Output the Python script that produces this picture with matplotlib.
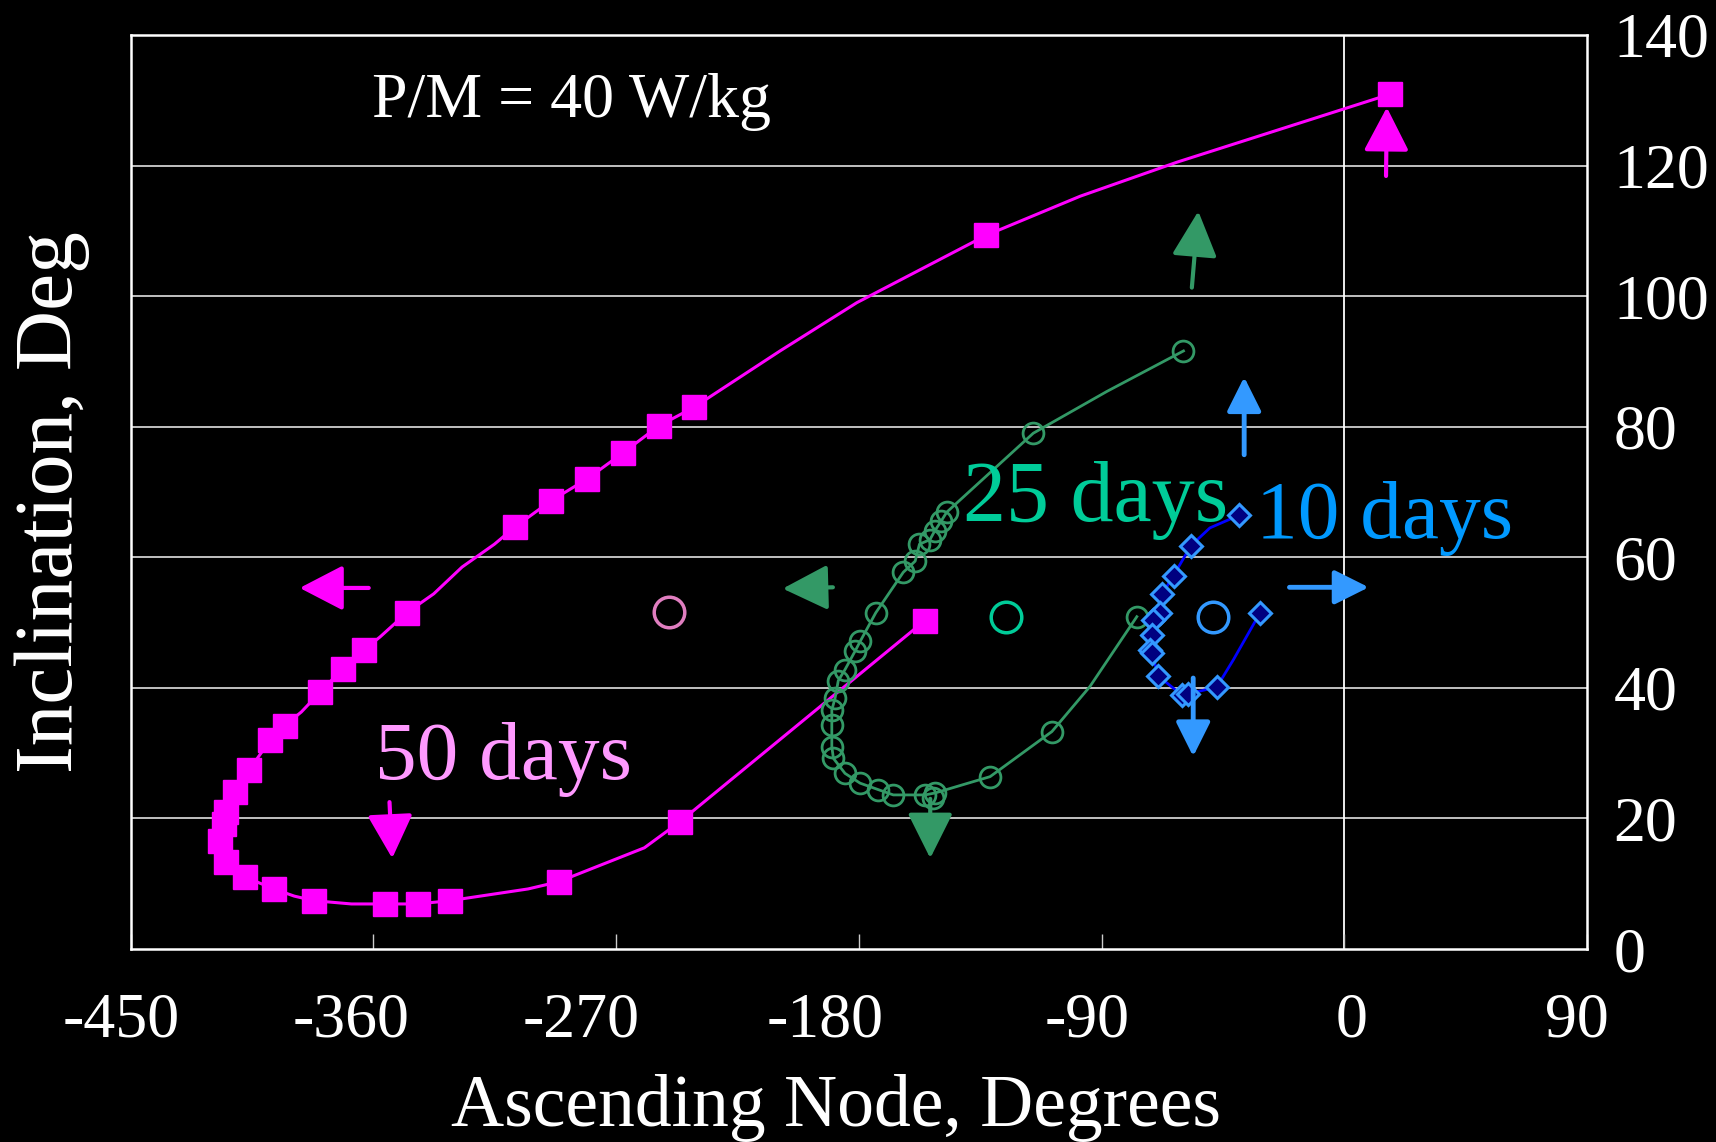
import matplotlib
matplotlib.use("Agg")
import matplotlib.pyplot as plt
from matplotlib.transforms import ScaledTranslation

plt.rcParams['font.family'] = ['Liberation Serif', 'DejaVu Serif']

# ---------------- data ----------------
# 50 days (magenta squares) - path including unmarked knots
mag_line_x = [-155.5, -246.3, -259.5, -291.3, -302.6, -331.7, -343.6, -355.5, -368.1, -382.0,
              -389.3, -396.9, -407.4, -414.5, -416.7, -415.4, -414.5, -411.4, -406.1, -398.2,
              -392.9, -386.7, -379.6, -371.4, -363.5, -357.5, -347.6, -337.6, -327.1, -315.1,
              -307.6, -294.3, -280.7, -267.4, -254.2, -241.0, -209.2, -180.7, -132.8, -97.9,
              -62.1, 16.8]
mag_line_y = [50.3, 19.5, 15.5, 10.3, 9.2, 7.4, 6.9, 6.9, 6.9, 7.4,
              8.1, 9.2, 11.0, 13.3, 16.6, 19.1, 21.0, 24.0, 27.4, 32.0,
              34.2, 36.3, 39.4, 42.9, 45.8, 47.8, 51.5, 54.4, 58.5, 62.0,
              64.6, 68.6, 72.0, 76.0, 80.1, 83.0, 91.6, 99.0, 109.3, 115.3,
              120.5, 130.9]
mag_mark_x = [-155.5, -246.3, -291.3, -331.7, -343.6, -355.5, -382.0, -396.9, -407.4, -414.5,
              -416.7, -415.4, -414.5, -411.4, -406.1, -398.2, -392.9, -379.6, -371.4, -363.5,
              -347.6, -307.6, -294.3, -280.7, -267.4, -254.2, -241.0, -132.8, 16.8]
mag_mark_y = [50.3, 19.5, 10.3, 7.4, 6.9, 6.9, 7.4, 9.2, 11.0, 13.3,
              16.6, 19.1, 21.0, 24.0, 27.4, 32.0, 34.2, 39.4, 42.9, 45.8,
              51.5, 64.6, 68.6, 72.0, 76.0, 80.1, 83.0, 109.3, 130.9]

# 25 days (green open circles)
grn_line_x = [-59.6, -88.0, -115.3, -147.4, -149.5, -151.9, -153.6, -157.5, -159.1, -163.5,
              -173.7, -179.5, -181.4, -185.1, -187.6, -188.8, -190.0, -190.0, -190.0, -189.4,
              -185.1, -179.5, -172.7, -167.2, -155.4, -151.7, -131.3, -108.4, -94.3, -76.9]
grn_line_y = [91.6, 85.4, 79.0, 66.9, 65.5, 64.0, 62.7, 62.0, 59.4, 57.7,
              51.5, 47.1, 45.6, 42.8, 41.1, 38.4, 36.6, 34.3, 31.0, 29.2,
              26.9, 25.4, 24.4, 23.6, 23.6, 23.9, 26.4, 33.3, 40.2, 50.9]
grn_mark_x = [-59.6, -115.3, -147.4, -149.5, -151.9, -153.6, -157.5, -159.1, -163.5,
              -173.7, -179.5, -181.4, -185.1, -187.6, -188.8, -190.0, -190.0, -190.0, -189.4,
              -185.1, -179.5, -172.7, -167.2, -155.4, -151.7, -152.6, -131.3, -108.4, -76.9]
grn_mark_y = [91.6, 79.0, 66.9, 65.5, 64.0, 62.7, 62.0, 59.4, 57.7,
              51.5, 47.1, 45.6, 42.8, 41.1, 38.4, 36.6, 34.3, 31.0, 29.2,
              26.9, 25.4, 24.4, 23.6, 23.6, 23.9, 23.2, 26.4, 33.3, 50.9]

# 10 days (blue diamonds)
blu_line_x = [-39.2, -49.8, -56.8, -63.3, -67.4, -68.3, -70.8, -71.3, -72.0, -71.3,
              -68.9, -60.2, -57.8, -47.3, -41.1, -31.2]
blu_line_y = [66.4, 64.5, 61.8, 57.2, 54.4, 51.5, 50.4, 48.1, 45.8, 45.3,
              41.8, 38.9, 39.1, 40.1, 44.3, 51.5]
blu_mark_x = [-39.2, -56.8, -63.3, -67.4, -68.3, -70.8, -71.3, -72.0, -71.3,
              -68.9, -60.2, -57.8, -47.3, -31.2]
blu_mark_y = [66.4, 61.8, 57.2, 54.4, 51.5, 50.4, 48.1, 45.8, 45.3,
              41.8, 38.9, 39.1, 40.1, 51.5]

# isolated open circles (one per case)
ctr_x = [-250.2, -125.4, -48.7]
ctr_y = [51.6, 50.8, 50.8]
ctr_colors = ['#E07EC0', '#00CC99', '#3399FF']

# arrows: (tail_x, tail_y, tip_x, tip_y)
mag_arrows = [(-361.7, 55.3, -387.3, 55.3), (-354.0, 22.5, -353.0, 13.9), (15.5, 118.4, 15.8, 128.9)]
grn_arrows = [(-56.5, 101.3, -54.1, 113.0), (-189.6, 55.4, -208.2, 55.2), (-153.5, 23.0, -153.5, 13.9)]
blu_arrows = [(-37.1, 75.7, -37.1, 87.6), (-20.3, 55.4, 9.1, 55.4), (-56.0, 41.5, -56.0, 29.5)]

x_ticks = [-450, -360, -270, -180, -90, 0, 90]
y_ticks = [0, 20, 40, 60, 80, 100, 120, 140]

# ---------------- figure ----------------
DPI = 100
fig = plt.figure(figsize=(17.16, 11.42), dpi=DPI, facecolor='black')
ax = fig.add_axes([0.0761, 0.169, 0.8487, 0.8004], facecolor='black')
ax.set_xlim(-450, 90)
ax.set_ylim(0, 140)

for yv in y_ticks[1:-1]:
    ax.axhline(yv, color='#d0d0d0', lw=1.3, zorder=1)
ax.axvline(0, color='white', lw=1.3, zorder=1)

for s in ax.spines.values():
    s.set_color('white')
    s.set_linewidth(1.8)

ax.set_xticks(x_ticks)
ax.set_xticklabels([str(v) for v in x_ticks])
ax.tick_params(axis='x', direction='in', length=11, width=1.0, color='#cccccc',
               labelcolor='white', labelsize=46, pad=31)
# small horizontal label shifts as in the original (pixels)
x_label_shift = [-9, -22, -35, -34, -14, 7, -10]
for lab, dx in zip(ax.get_xticklabels(), x_label_shift):
    lab.set_transform(lab.get_transform() + ScaledTranslation(dx / DPI, 0, fig.dpi_scale_trans))

ax.yaxis.tick_right()
ax.set_yticks(y_ticks)
ax.set_yticklabels([str(v) for v in y_ticks])
ax.tick_params(axis='y', length=0, labelcolor='white', labelsize=46, pad=19)

ax.set_xlabel('Ascending Node, Degrees', color='white', fontsize=53)
ax.xaxis.label.set_va('baseline')
ax.xaxis.set_label_coords(0.4872, 0.0140, transform=fig.transFigure)

ax.set_ylabel('Inclination, Deg', color='white', fontsize=60)
ax.yaxis.set_label_position('left')
ax.yaxis.label.set_va('center')
ax.yaxis.label.set_ha('center')
ax.yaxis.set_label_coords(0.0305, 0.5604, transform=fig.transFigure)

# series
ax.plot(mag_line_x, mag_line_y, color='#FF00FF', lw=2.2, zorder=3)
ax.plot(mag_mark_x, mag_mark_y, ls='none', marker='s', ms=17, color='#FF00FF', zorder=4)

ax.plot(grn_line_x, grn_line_y, color='#339966', lw=2.0, zorder=3)
ax.plot(grn_mark_x, grn_mark_y, ls='none', marker='o', ms=15, mfc='none', mec='#339966',
        mew=2.0, zorder=4)

ax.plot(blu_line_x, blu_line_y, color='#0000FF', lw=2.0, zorder=3)
ax.plot(blu_mark_x, blu_mark_y, ls='none', marker='D', ms=11, mfc='#000080', mec='#3399FF',
        mew=2.2, zorder=4)

for cx, cy, cc in zip(ctr_x, ctr_y, ctr_colors):
    ax.plot([cx], [cy], ls='none', marker='o', ms=22, mfc='none', mec=cc, mew=2.5, zorder=4)


def draw_arrows(arrs, color, hl, hw, lw):
    for tx, ty, hx, hy in arrs:
        ax.annotate('', xy=(hx, hy), xytext=(tx, ty),
                    arrowprops=dict(arrowstyle='-|>,head_length=%g,head_width=%g' % (hl, hw),
                                    color=color, lw=lw, shrinkA=0, shrinkB=0,
                                    mutation_scale=1), zorder=5)


draw_arrows(mag_arrows, '#FF00FF', 27, 14, 3.0)
draw_arrows(grn_arrows, '#339966', 28, 14, 3.0)
draw_arrows(blu_arrows, '#3399FF', 21, 10.5, 3.5)

# texts
ax.text(-360.5, 127.4, 'P/M = 40 W/kg', color='white', fontsize=46, va='baseline', ha='left')
ax.text(-359.4, 26.1, '50 days', color='#FF99FF', fontsize=60, va='baseline', ha='left')
ax.text(-141.3, 65.6, '25 days', color='#00CC99', fontsize=62, va='baseline', ha='left')
ax.text(-32.6, 63.0, '10 days', color='#0099FF', fontsize=60, va='baseline', ha='left')

fig.savefig('out.png', dpi=DPI, facecolor='black')
